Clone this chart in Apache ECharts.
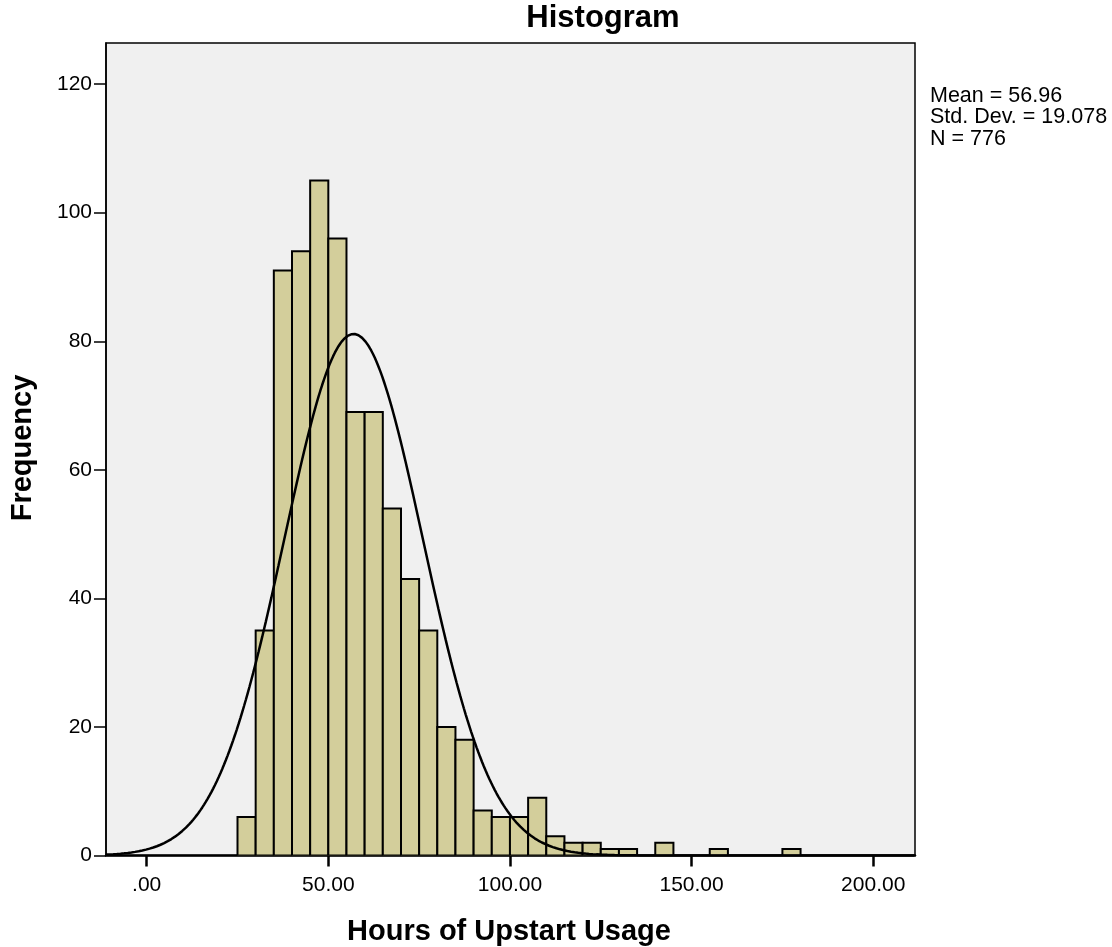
<!DOCTYPE html>
<html>
<head>
<meta charset="utf-8">
<script src="https://cdn.jsdelivr.net/npm/echarts@6/dist/echarts.min.js"></script>
<style>
html,body{margin:0;padding:0;background:#fff;}
#chart{width:1112px;height:947px;}
</style>
</head>
<body>
<div id="chart"></div>
<script>
// ---- data ----
const binWidth = 5;
const binStarts = [25,30,35,40,45,50,55,60,65,70,75,80,85,90,95,100,105,110,115,120,125,130,135,140,145,150,155,160,165,170,175];
const counts    = [6,35,91,94,105,96,69,69,54,43,35,20,18,7,6,6,9,3,2,2,1,1,0,2,0,0,1,0,0,0,1];
const statMean = 56.96;
const statStd = 19.078;
const statN = 776;
const statLines = ['Mean = 56.96', 'Std. Dev. = 19.078', 'N = 776'];
const xTickValues = [0,50,100,150,200];
const xTickLabels = ['.00','50.00','100.00','150.00','200.00'];
const yTickValues = [0,20,40,60,80,100,120];
const yTickLabels = ['0','20','40','60','80','100','120'];
const xMin = -11.2, xMax = 211.5, yMax = 126.4;

// ---- build ----
const barData = binStarts.map((s,i)=>[s, s+binWidth, counts[i]]);
// fitted normal curve from the displayed statistics
const curve = [];
for (let x = xMin; x <= xMax + 0.001; x += 0.5) {
  const z = (x - statMean) / statStd;
  curve.push([x, statN * binWidth / (statStd * Math.sqrt(2*Math.PI)) * Math.exp(-0.5*z*z)]);
}
const FONT = '"Liberation Sans", Arial, sans-serif';
const chart = echarts.init(document.getElementById('chart'), null, {renderer:'canvas'});
chart.setOption({
  animation:false,
  backgroundColor:'#ffffff',
  grid:{left:106, right:197, top:43, bottom:91.5, show:true, backgroundColor:'#F0F0F0', borderColor:'#000', borderWidth:1.5, containLabel:false},
  xAxis:{
    type:'value', min:xMin, max:xMax,
    axisLine:{show:true, onZero:false, lineStyle:{color:'#000', width:2.5}},
    axisTick:{show:true, inside:false, length:11, customValues:xTickValues, lineStyle:{color:'#000', width:2.5}},
    axisLabel:{show:true, customValues:xTickValues, margin:19, color:'#000', fontSize:21, fontFamily:FONT,
      formatter:(v)=>{const i=xTickValues.indexOf(v); return i>=0?xTickLabels[i]:'';}},
    splitLine:{show:false}
  },
  yAxis:{
    type:'value', min:0, max:yMax,
    axisLine:{show:true, onZero:false, lineStyle:{color:'#000', width:1.5}},
    axisTick:{show:true, inside:false, length:12, customValues:yTickValues, lineStyle:{color:'#000', width:1.5}},
    axisLabel:{show:true, customValues:yTickValues, margin:14, color:'#000', fontSize:21, fontFamily:FONT,
      formatter:(v)=>{const i=yTickValues.indexOf(v); return i>=0?yTickLabels[i]:'';}},
    splitLine:{show:false}
  },
  series:[
    {
      type:'custom',
      data:barData,
      encode:{x:[0,1], y:2},
      clip:true,
      z:2,
      renderItem:(params, api)=>{
        const x0=api.value(0), x1=api.value(1), c=api.value(2);
        if(!c) return null;
        const p0=api.coord([x0,0]), p1=api.coord([x1,c]);
        return {type:'rect', shape:{x:p0[0], y:p1[1], width:p1[0]-p0[0], height:p0[1]-p1[1]},
          style:{fill:'#D3CE9B', stroke:'#000', lineWidth:2}};
      }
    },
    {
      type:'line', data:curve, showSymbol:false, symbol:'none', smooth:false, clip:true, z:5,
      lineStyle:{color:'#000', width:2.5}
    }
  ],
  graphic:[
    {type:'text', x:603, y:18, z:10, style:{text:'Histogram', fill:'#000', font:'bold 31px '+FONT, textAlign:'center', textVerticalAlign:'middle'}},
    {type:'text', x:509, y:932, z:10, style:{text:'Hours of Upstart Usage', fill:'#000', font:'bold 29px '+FONT, textAlign:'center', textVerticalAlign:'middle'}},
    {type:'text', x:23, y:448, rotation:Math.PI/2, z:10, style:{text:'Frequency', fill:'#000', font:'bold 29px '+FONT, textAlign:'center', textVerticalAlign:'middle'}},
    {type:'text', x:930, y:85, z:10, style:{text:statLines.join('\n'), fill:'#000', font:'21.5px '+FONT, lineHeight:21.5, textAlign:'left', textVerticalAlign:'top'}}
  ]
});
</script>
</body>
</html>
